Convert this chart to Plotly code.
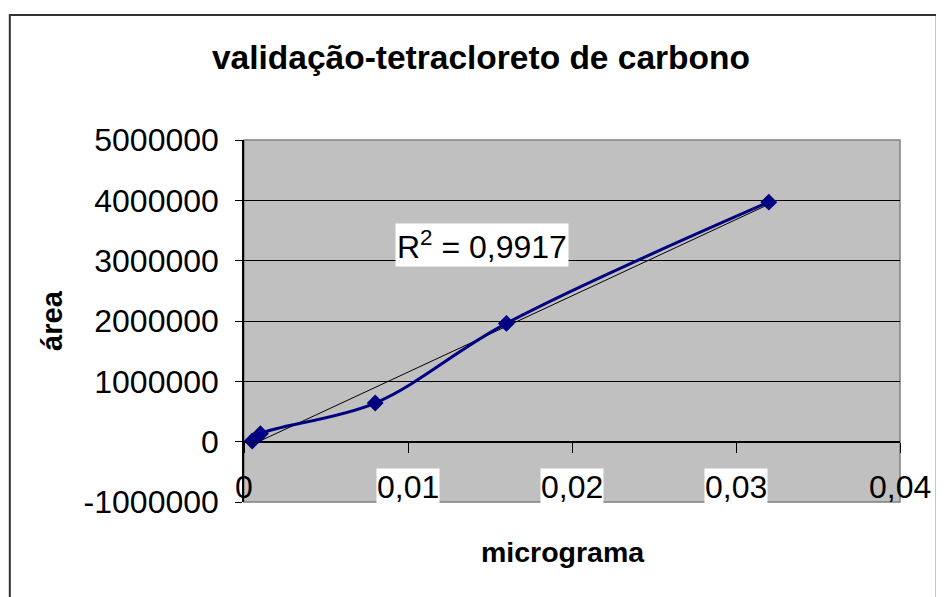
import numpy as np
import plotly.graph_objects as go

# data
micrograma = [0.0005, 0.001, 0.008, 0.016, 0.032]
area = [10000, 130000, 640000, 1960000, 3970000]

x_tick_vals = [0, 0.01, 0.02, 0.03, 0.04]
x_tick_text = ["0", "0,01", "0,02", "0,03", "0,04"]
x_tick_boxed = [False, True, True, True, False]
y_tick_vals = [-1000000, 0, 1000000, 2000000, 3000000, 4000000, 5000000]
y_tick_text = ["-1000000", "0", "1000000", "2000000", "3000000", "4000000", "5000000"]

r2_text = "R<sup>2</sup> = 0,9917"

FONT = "Arial, Liberation Sans, sans-serif"
NAVY = "#000080"

# linear trendline over the data range
slope, intercept = np.polyfit(micrograma, area, 1)
trend_x = [micrograma[0], micrograma[-1]]
trend_y = [slope * v + intercept for v in trend_x]

fig = go.Figure()

fig.add_trace(go.Scatter(
    x=trend_x, y=trend_y, mode="lines",
    line=dict(color="black", width=1),
    hoverinfo="skip", showlegend=False,
))

fig.add_trace(go.Scatter(
    x=micrograma, y=area, mode="lines+markers",
    line=dict(color=NAVY, width=3, shape="spline", smoothing=1.0),
    marker=dict(symbol="diamond", size=13, color=NAVY),
    showlegend=False,
))

# x tick labels sit near the bottom of the plot area, some with white boxes
for val, txt, boxed in zip(x_tick_vals, x_tick_text, x_tick_boxed):
    fig.add_annotation(
        x=val, y=-745000, xref="x", yref="y", text=txt, showarrow=False,
        font=dict(family=FONT, size=32, color="black"),
        bgcolor="white" if boxed else "rgba(0,0,0,0)",
        xanchor="center", yanchor="middle", borderpad=0,
    )

# R² label
fig.add_annotation(
    x=0.01451, y=3265000, xref="x", yref="y", text=r2_text, showarrow=False,
    font=dict(family=FONT, size=32, color="black"),
    bgcolor="white", xanchor="center", yanchor="middle", borderpad=1,
)

# axis titles
fig.add_annotation(
    x=-0.2927, y=0.503, xref="paper", yref="paper", text="<b>área</b>",
    showarrow=False, textangle=-90,
    font=dict(family=FONT, size=29, color="black"),
    xanchor="center", yanchor="middle",
)
fig.add_annotation(
    x=0.486, y=-0.138, xref="paper", yref="paper", text="<b>micrograma</b>",
    showarrow=False, font=dict(family=FONT, size=28.5, color="black"),
    xanchor="center", yanchor="middle",
)

# chart frame
fig.add_shape(
    type="rect", xref="paper", yref="paper",
    x0=-0.357, x1=1.056, y0=-0.3, y1=1.345,
    line=dict(color="#333333", width=2), fillcolor="rgba(0,0,0,0)",
    layer="below",
)
# plot area outline (right and bottom edges)
fig.add_shape(
    type="rect", xref="paper", yref="paper",
    x0=0, x1=1, y0=0, y1=1,
    line=dict(color="#808080", width=1.5), fillcolor="rgba(0,0,0,0)",
    layer="below",
)

# the page body adds an 8px margin, so the figure is 8px smaller
fig.update_layout(
    width=936, height=589,
    margin=dict(l=236, r=44, t=132, b=95),
    paper_bgcolor="white",
    plot_bgcolor="#C0C0C0",
    font=dict(family=FONT, size=32, color="black"),
    title=dict(
        text="<b>validação-tetracloreto de carbono</b>",
        font=dict(family=FONT, size=33.5, color="black"),
        xref="container", yref="container", x=0.5053, y=0.917,
        xanchor="center", yanchor="middle",
    ),
    xaxis=dict(
        range=[0, 0.04], tickvals=x_tick_vals, showticklabels=False,
        showgrid=False, zeroline=False,
        anchor="free", position=1 / 6,
        showline=True, linecolor="black", linewidth=1,
        ticks="outside", ticklen=10, tickcolor="black", tickwidth=1,
    ),
    yaxis=dict(
        range=[-1000000, 5000000], tickvals=y_tick_vals, ticktext=y_tick_text,
        showgrid=True, gridcolor="black", gridwidth=1,
        zeroline=False,
        showline=True, linecolor="black", linewidth=1.5,
        ticks="outside", ticklen=7, tickcolor="black",
        tickfont=dict(family=FONT, size=32, color="black"),
        ticklabelstandoff=10,
    ),
)

fig.write_html("out.html")
